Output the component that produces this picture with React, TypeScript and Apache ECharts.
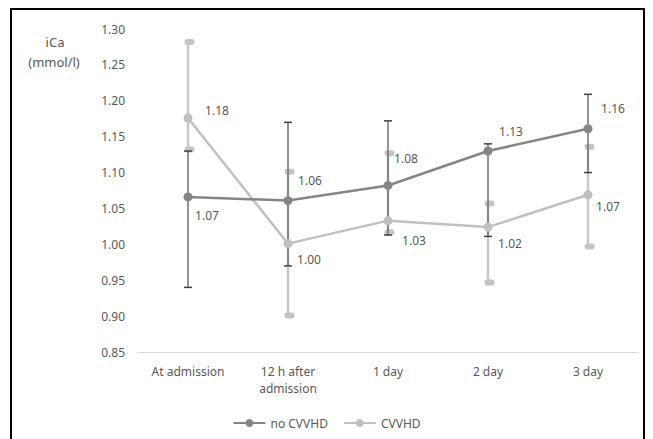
import React, { useEffect, useRef } from "react";
import * as echarts from "echarts";

const categories = ["At admission", "12 h after\nadmission", "1 day", "2 day", "3 day"];
const yTicks = { min: 0.85, max: 1.3, step: 0.05 };

const noCvvhdMean = [1.066, 1.061, 1.082, 1.13, 1.161];
const noCvvhdLow = [0.94, 0.97, 1.013, 1.011, 1.1];
const noCvvhdHigh = [1.13, 1.17, 1.172, 1.14, 1.209];
const noCvvhdLabels = ["1.07", "1.06", "1.08", "1.13", "1.16"];

const cvvhdMean = [1.176, 1.001, 1.033, 1.024, 1.069];
const cvvhdLow = [1.132, 0.901, 1.017, 0.947, 0.997];
const cvvhdHigh = [1.282, 1.101, 1.127, 1.057, 1.136];
const cvvhdLabels = ["1.18", "1.00", "1.03", "1.02", "1.07"];

// label offsets (styling only)
const noCvvhdLabelOffset = [[19, 19], [22, -20], [18, -27], [23, -20], [25, -20]];
const cvvhdLabelOffset = [[29, -8], [21, 16], [26, 20], [22, 16], [20, 12]];

const DARK = "#858585";
const LIGHT = "#c0c0c0";
const TEXT = "#595959";
const FONT = "'Noto Sans', sans-serif";

export default function App() {
  const ref = useRef<HTMLDivElement>(null);
  useEffect(() => {
    if (!ref.current) return;
    const chart = echarts.init(ref.current, undefined, { renderer: "svg" });

    const errData = (low: number[], high: number[]) =>
      low.map((l, i) => [i, l, high[i]]);

    const darkErr = (params: any, api: any) => {
      const i = api.value(0);
      const top = api.coord([i, api.value(2)]);
      const bot = api.coord([i, api.value(1)]);
      const x = top[0];
      return {
        type: "group",
        children: [
          { type: "line", shape: { x1: x, y1: top[1], x2: x, y2: bot[1] }, style: { stroke: "#707070", lineWidth: 1.5 } },
          { type: "line", shape: { x1: x - 4, y1: top[1], x2: x + 4, y2: top[1] }, style: { stroke: "#404040", lineWidth: 1.5 } },
          { type: "line", shape: { x1: x - 4, y1: bot[1], x2: x + 4, y2: bot[1] }, style: { stroke: "#404040", lineWidth: 1.5 } },
        ],
      };
    };
    const lightErr = (params: any, api: any) => {
      const i = api.value(0);
      const top = api.coord([i, api.value(2)]);
      const bot = api.coord([i, api.value(1)]);
      const x = top[0];
      return {
        type: "group",
        children: [
          { type: "line", shape: { x1: x, y1: top[1], x2: x, y2: bot[1] }, style: { stroke: "#c8c8c8", lineWidth: 2.5 } },
          { type: "rect", shape: { x: x - 3.5, y: top[1] - 3, width: 10, height: 6, r: 3 }, style: { fill: "#c4c4c4" } },
          { type: "rect", shape: { x: x - 3.5, y: bot[1] - 3, width: 10, height: 6, r: 3 }, style: { fill: "#c4c4c4" } },
        ],
      };
    };

    const lineData = (means: number[], labels: string[], offsets: number[][]) =>
      means.map((v, i) => ({
        value: v,
        label: { show: true, formatter: labels[i], position: "inside", offset: offsets[i] },
      }));

    chart.setOption({
      animation: false,
      textStyle: { fontFamily: FONT },
      grid: { left: 138, right: 15, top: 29, bottom: 87 },
      graphic: [
        { type: "rect", shape: { x: 11, y: 9, width: 633, height: 440 }, style: { fill: "none", stroke: "#000", lineWidth: 2 }, z: 100 },
        { type: "text", x: 55, y: 42, style: { text: "iCa", fill: TEXT, font: `13px ${FONT}`, align: "center", verticalAlign: "middle" } },
        { type: "text", x: 54, y: 62, style: { text: "(mmol/l)", fill: TEXT, font: `13px ${FONT}`, align: "center", verticalAlign: "middle" } },
      ],
      legend: {
        bottom: 5,
        left: "center",
        itemWidth: 32,
        itemHeight: 10,
        itemGap: 15,
        textStyle: { color: TEXT, fontSize: 12, fontFamily: FONT },
        data: ["no CVVHD", "CVVHD"],
      },
      xAxis: {
        type: "category",
        data: categories,
        axisLine: { lineStyle: { color: "#d9d9d9", width: 1 } },
        axisTick: { show: false },
        axisLabel: { color: TEXT, fontSize: 12, margin: 11, lineHeight: 17, interval: 0 },
      },
      yAxis: {
        type: "value",
        min: yTicks.min,
        max: yTicks.max,
        interval: yTicks.step,
        axisLine: { show: false },
        axisTick: { show: false },
        splitLine: { show: false },
        axisLabel: { color: TEXT, fontSize: 12, margin: 13, formatter: (v: number) => v.toFixed(2) },
      },
      series: [
        { name: "CVVHD-err", type: "custom", renderItem: lightErr, data: errData(cvvhdLow, cvvhdHigh), z: 1, silent: true },
        { name: "no-err", type: "custom", renderItem: darkErr, data: errData(noCvvhdLow, noCvvhdHigh), z: 2, silent: true },
        {
          name: "CVVHD",
          type: "line",
          data: lineData(cvvhdMean, cvvhdLabels, cvvhdLabelOffset),
          symbol: "circle",
          symbolSize: 9,
          itemStyle: { color: LIGHT },
          lineStyle: { color: LIGHT, width: 2.5 },
          label: { color: TEXT, fontSize: 12 },
          z: 3,
        },
        {
          name: "no CVVHD",
          type: "line",
          data: lineData(noCvvhdMean, noCvvhdLabels, noCvvhdLabelOffset),
          symbol: "circle",
          symbolSize: 9,
          itemStyle: { color: DARK },
          lineStyle: { color: DARK, width: 2.5 },
          label: { color: TEXT, fontSize: 12 },
          z: 4,
        },
      ],
    });
    return () => chart.dispose();
  }, []);
  return (
    <div
      ref={ref}
      style={{ position: "fixed", left: 0, top: 0, width: 653, height: 439, background: "#fff" }}
    />
  );
}
